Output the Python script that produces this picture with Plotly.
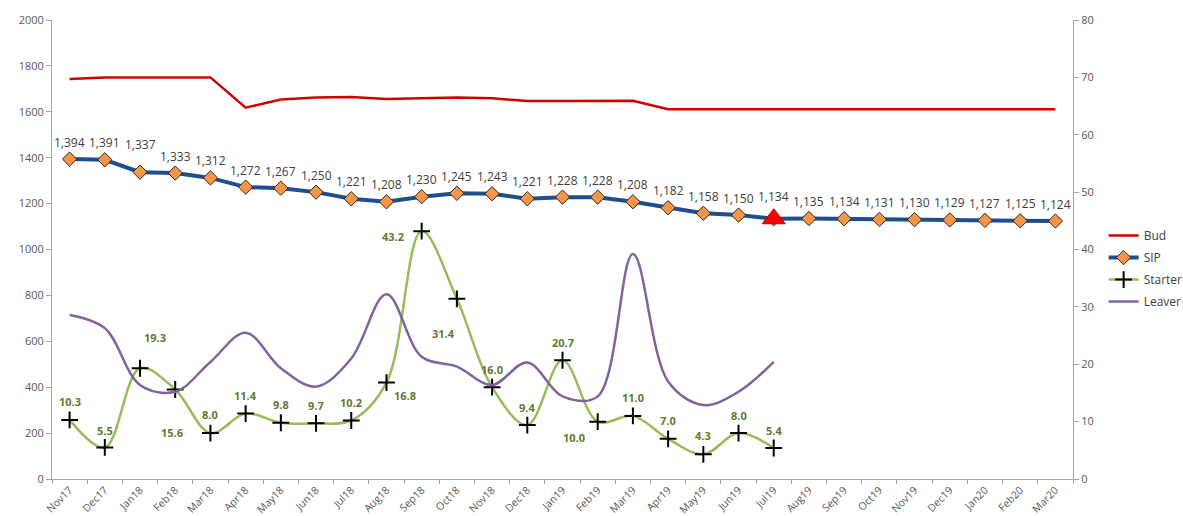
import plotly.graph_objects as go

# Monthly categories
months = ["Nov17", "Dec17", "Jan18", "Feb18", "Mar18", "Apr18", "May18", "Jun18",
          "Jul18", "Aug18", "Sep18", "Oct18", "Nov18", "Dec18", "Jan19", "Feb19",
          "Mar19", "Apr19", "May19", "Jun19", "Jul19", "Aug19", "Sep19", "Oct19",
          "Nov19", "Dec19", "Jan20", "Feb20", "Mar20"]

# Headcount series (left axis)
bud = [1743, 1750, 1750, 1750, 1750, 1618, 1654, 1662, 1664, 1656, 1659, 1662,
       1659, 1647, 1647, 1648, 1648, 1611, 1611, 1611, 1611, 1611, 1611, 1611,
       1611, 1611, 1611, 1611, 1611]
sip = [1394, 1391, 1337, 1333, 1312, 1272, 1267, 1250, 1221, 1208, 1230, 1245,
       1243, 1221, 1228, 1228, 1208, 1182, 1158, 1150, 1134, 1135, 1134, 1131,
       1130, 1129, 1127, 1125, 1124]

# Movement series (right axis), Nov17 - Jul19
starter = [10.3, 5.5, 19.3, 15.6, 8.0, 11.4, 9.8, 9.7, 10.2, 16.8, 43.2, 31.4,
           16.0, 9.4, 20.7, 10.0, 11.0, 7.0, 4.3, 8.0, 5.4]
leaver = [28.6, 26.3, 16.4, 15.2, 20.4, 25.5, 19.3, 16.1, 21.0, 32.2, 21.3, 19.6,
          16.4, 20.3, 14.4, 14.4, 39.2, 17.0, 12.9, 15.2, 20.4]

# Month flagged on the SIP line
flag_month = "Jul19"

# Label offsets in pixels (dx, dy) — dy positive = upward
sip_label_dy = [17] * len(sip)
sip_label_dy[2] = 28
sip_label_dy[months.index(flag_month)] = 22

starter_label_off = [(0, 18), (0, 17), (15, 31), (-3, -43), (0, 19), (0, 18),
                     (0, 18), (0, 18), (0, 18), (19, -13), (-29, -5), (-13, -35),
                     (0, 18), (0, 18), (0, 18), (-24, -16), (0, 18), (0, 18),
                     (0, 19), (0, 18), (0, 18)]

FONT = "Open Sans"
GREY = "#595959"

fig = go.Figure()

fig.add_trace(go.Scatter(
    x=months, y=bud, name="Bud", mode="lines", legendgroup="bud",
    line=dict(color="#CC0000", width=2.5), yaxis="y"))

fig.add_trace(go.Scatter(
    x=months, y=sip, name="SIP", mode="lines+markers", legendgroup="sip",
    line=dict(color="#1F4E8C", width=4),
    marker=dict(symbol="diamond", size=11, color="#F79646",
                line=dict(color="#262626", width=1)),
    yaxis="y"))

fi = months.index(flag_month)
fig.add_trace(go.Scatter(
    x=[months[fi]], y=[sip[fi]], mode="markers", showlegend=False,
    legendgroup="sip",
    marker=dict(symbol="triangle-up", size=20, color="#FF0000",
                line=dict(color="#C00000", width=1)),
    yaxis="y", hoverinfo="skip"))

fig.add_trace(go.Scatter(
    x=months[:len(starter)], y=starter, name="Starter", mode="lines+markers",
    legendgroup="starter",
    line=dict(color="#9BBB59", width=2.5, shape="spline", smoothing=1),
    marker=dict(symbol="cross-thin", size=12, color="black",
                line=dict(color="black", width=2)),
    yaxis="y2"))

fig.add_trace(go.Scatter(
    x=months[:len(leaver)], y=leaver, name="Leaver", mode="lines",
    legendgroup="leaver",
    line=dict(color="#8064A2", width=2.5, shape="spline", smoothing=1),
    yaxis="y2"))

annotations = []
for m, v, dy in zip(months, sip, sip_label_dy):
    annotations.append(dict(
        x=m, y=v, xref="x", yref="y", text=f"{v:,}", showarrow=False,
        yshift=dy, font=dict(family=FONT, size=12, color="#404040")))

for m, v, (dx, dy) in zip(months, starter, starter_label_off):
    annotations.append(dict(
        x=m, y=v, xref="x", yref="y2", text=f"<b>{v:.1f}</b>", showarrow=False,
        xshift=dx, yshift=dy, font=dict(family=FONT, size=11, color="#5F7A30")))

axis_common = dict(
    showgrid=False, zeroline=False, showline=True, linecolor="#A6A6A6",
    linewidth=1, ticks="outside", ticklen=5, tickcolor="#A6A6A6",
    automargin=False,
    tickfont=dict(family=FONT, size=11, color=GREY))

x_axis = dict(axis_common, ticklen=4,
              tickfont=dict(family=FONT, size=10.5, color=GREY))

fig.update_layout(
    width=1183, height=516,
    margin=dict(l=52, r=110, t=20, b=37, autoexpand=False),
    paper_bgcolor="white", plot_bgcolor="white",
    font=dict(family=FONT, size=11, color=GREY),
    xaxis=dict(**x_axis, type="category", tickangle=-45,
               tickson="boundaries", range=[-0.5, len(months) - 0.5]),
    yaxis=dict(**axis_common, range=[0, 2000], dtick=200),
    yaxis2=dict(**axis_common, range=[0, 80], dtick=10, overlaying="y",
                side="right", anchor="x"),
    legend=dict(x=1.030, y=0.562, xanchor="left", yanchor="top",
                font=dict(family=FONT, size=12, color="#404040"),
                bgcolor="rgba(0,0,0,0)", tracegroupgap=3, itemwidth=30),
    annotations=annotations,
    showlegend=True,
)

fig.write_html("out.html")
